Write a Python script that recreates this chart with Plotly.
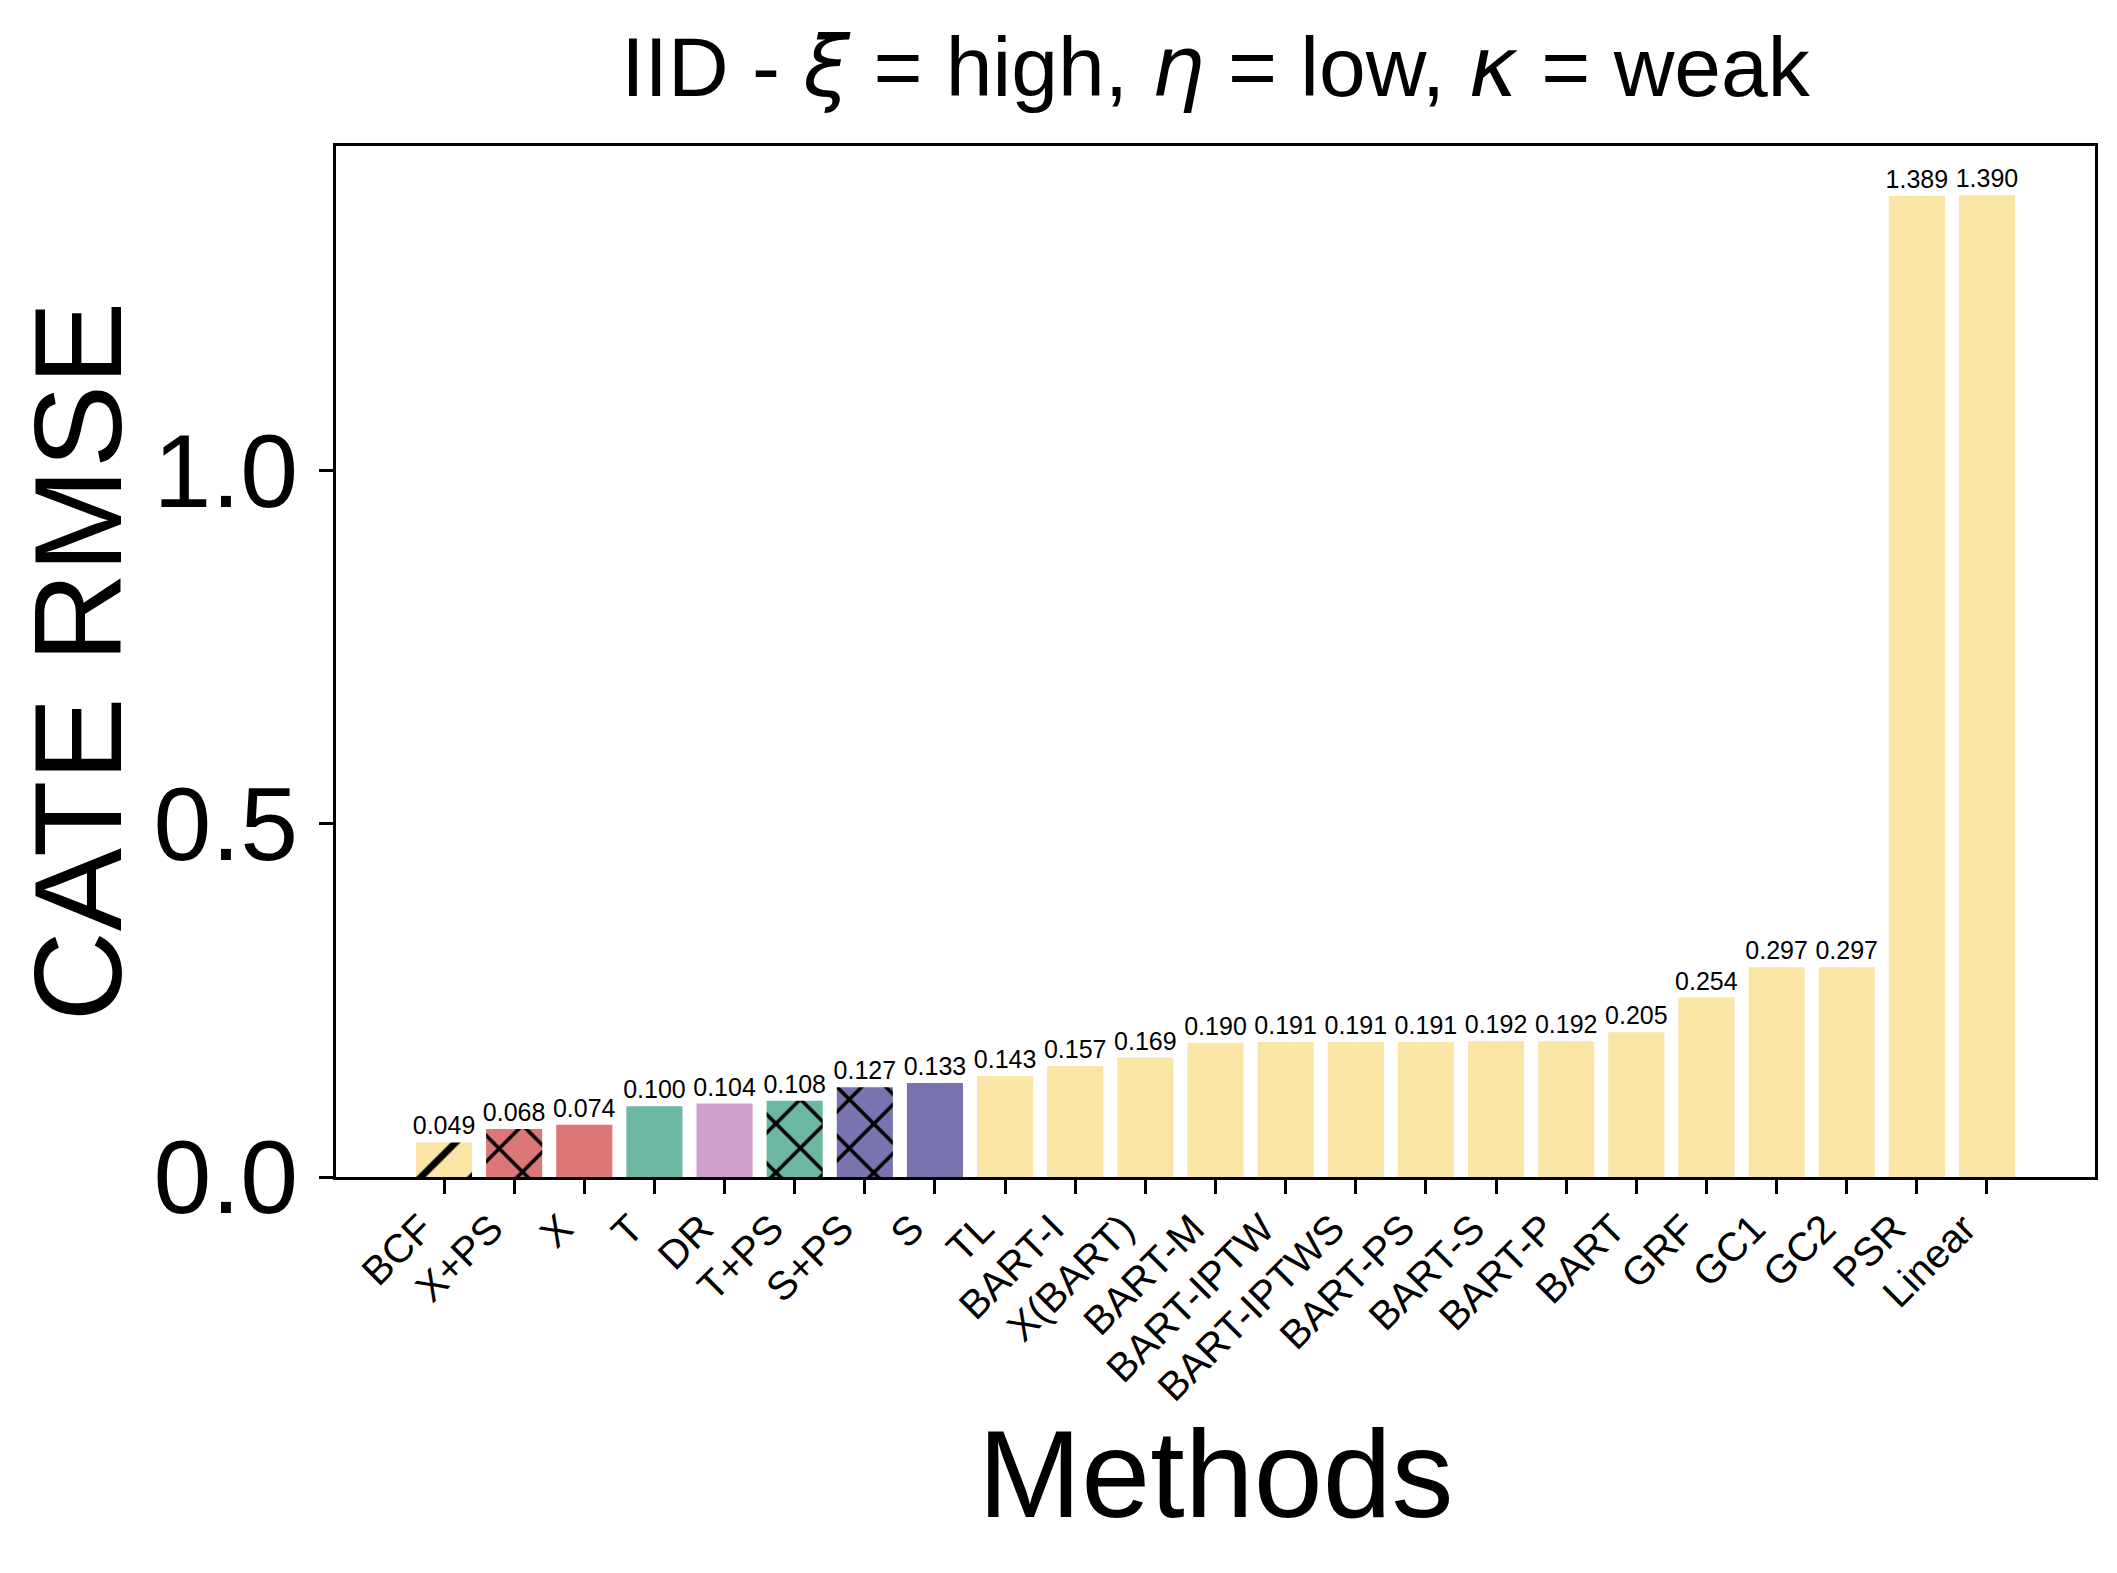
import math
import plotly.graph_objects as go

methods = ["BCF", "X+PS", "X", "T", "DR", "T+PS", "S+PS", "S", "TL", "BART-I",
           "X(BART)", "BART-M", "BART-IPTW", "BART-IPTWS", "BART-PS", "BART-S",
           "BART-P", "BART", "GRF", "GC1", "GC2", "PSR", "Linear"]
rmse = [0.049, 0.068, 0.074, 0.100, 0.104, 0.108, 0.127, 0.133, 0.143, 0.157,
        0.169, 0.190, 0.191, 0.191, 0.191, 0.192, 0.192, 0.205, 0.254, 0.297,
        0.297, 1.389, 1.390]
group = ["yellow", "red", "red", "teal", "pink", "teal", "purple", "purple"] + ["yellow"] * 15
hatch = ["/", "x", "", "", "", "x", "x", ""] + [""] * 15
yticks = [0.0, 0.5, 1.0]

palette = {
    "yellow": "#FBE5A7",
    "red": "#DD7676",
    "teal": "#6CB8A3",
    "pink": "#CF9ECB",
    "purple": "#7974B0",
}
xpos = list(range(len(methods)))

FONT = "Arial, Liberation Sans, sans-serif"

# ---- layout geometry ----
W, H = 2101, 1557
ML, MR, MT, MB = 328, 14, 138, 388
XR = [-1.54, 23.54]
YR = [0, 1.4595]
PAGE_OFF = 8  # default body margin of the html page
PW, PH = W - ML - MR, H - MT - MB
OX, OY = ML + PAGE_OFF, MT + PAGE_OFF

# ---- hatch styling (matplotlib-like: 6 lines per inch at 300 dpi, 1pt lines) ----
HATCH_PERIOD = 50.0
HATCH_LW = 3.6
PHASE_SUM, PHASE_DIFF = 1598.0, -649.0  # page-space phase of '/' and '\' families


def _err(target, origin, w):
    r = target - origin
    return r - w * round(r / w)


def hatch_tile(i, val, shape):
    cx = OX + (i - XR[0]) / (XR[1] - XR[0]) * PW
    cy = OY + (YR[1] - val / 2) / (YR[1] - YR[0]) * PH
    s_ref = PHASE_SUM + HATCH_PERIOD * round((cx + cy - PHASE_SUM) / HATCH_PERIOD)
    d_ref = PHASE_DIFF + HATCH_PERIOD * round((cx - cy - PHASE_DIFF) / HATCH_PERIOD)
    best, best_w = None, HATCH_PERIOD
    w = 45.0
    while w <= 55.0:
        e = _err(s_ref, OX + OY, w) ** 2
        if shape == "x":
            e += _err(d_ref, OX - OY, w) ** 2
        e += (0.6 * (w - HATCH_PERIOD)) ** 2
        if best is None or e < best:
            best, best_w = e, w
        w += 0.01
    size = best_w / math.sqrt(2)
    solidity = 1 - (1 - HATCH_LW / size) ** 2
    return size, solidity


fig = go.Figure()
for i, (name, val, grp, hat) in enumerate(zip(methods, rmse, group, hatch)):
    col = palette[grp]
    marker = dict(color=col, line=dict(width=0))
    if hat:
        size, sol = hatch_tile(i, val, hat)
        marker["pattern"] = dict(shape=hat, fgcolor="black", bgcolor=col, fgopacity=1,
                                 size=size, solidity=sol, fillmode="replace")
    fig.add_trace(go.Bar(
        x=[i],
        y=[val],
        name=name,
        width=0.8,
        marker=marker,
        text=[f"{val:.3f}"],
        textposition="outside",
        textfont=dict(size=25, color="black", family=FONT),
        constraintext="none",
        cliponaxis=False,
        showlegend=False,
    ))

greek = '<span style="font-family:DejaVu Sans">{}</span>'
title = ("IID - " + "<i>" + greek.format("ξ") + "</i> = high, "
         + "<i>" + greek.format("η") + "</i> = low, "
         + "<i>" + greek.format("κ") + "</i> = weak")

fig.update_layout(
    width=W,
    height=H,
    paper_bgcolor="white",
    plot_bgcolor="white",
    font=dict(family=FONT, color="black"),
    margin=dict(l=ML, r=MR, t=MT, b=MB, autoexpand=False),
    title=dict(text=title, x=0.5, xref="paper", xanchor="center",
               y=1 - 59 / H, yref="container", yanchor="middle",
               font=dict(size=84, family=FONT, color="black")),
    barmode="overlay",
    annotations=[dict(
        text="Methods", xref="paper", yref="paper", x=0.5, y=-0.2192,
        xanchor="center", yanchor="top", showarrow=False,
        font=dict(size=124, family=FONT, color="black"),
    )],
)

fig.update_xaxes(
    range=XR,
    tickmode="array",
    tickvals=xpos,
    ticktext=methods,
    tickangle=-45,
    ticklabelshift=-23,
    ticklabelstandoff=-5,
    tickfont=dict(size=40, family=FONT, color="black"),
    ticks="outside", ticklen=14, tickwidth=3, tickcolor="black",
    showline=True, linewidth=3, linecolor="black", mirror=True,
    showgrid=False, zeroline=False,
)
fig.update_yaxes(
    range=YR,
    tickmode="array",
    tickvals=yticks,
    ticktext=[f"{t:.1f}" for t in yticks],
    tickfont=dict(size=104, family=FONT, color="black"),
    ticks="outside", ticklen=14, tickwidth=3, tickcolor="black",
    showline=True, linewidth=3, linecolor="black", mirror=True,
    showgrid=False, zeroline=False,
    title=dict(text="CATE RMSE", font=dict(size=125, family=FONT, color="black"), standoff=44),
)

fig.write_html("out.html")
